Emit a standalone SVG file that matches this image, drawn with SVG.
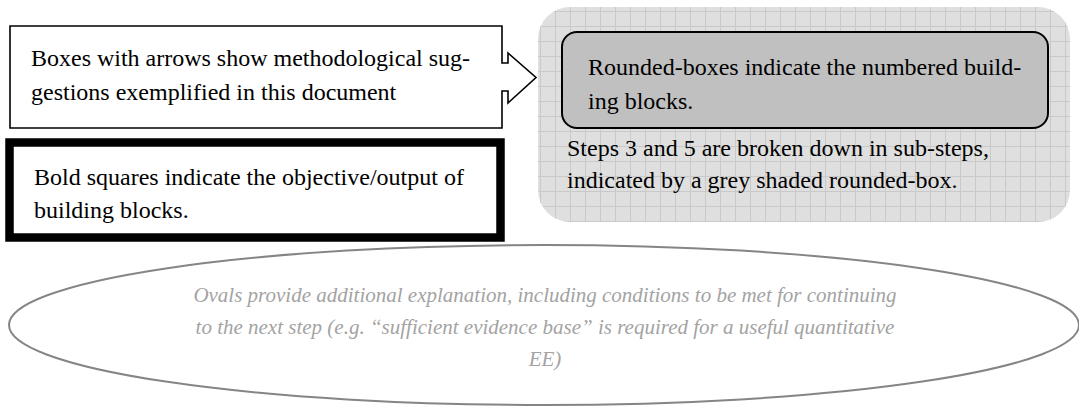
<svg xmlns="http://www.w3.org/2000/svg" width="1079" height="410" viewBox="0 0 1079 410">
  <defs>
    <pattern id="grid" x="0" y="11" width="15" height="15" patternUnits="userSpaceOnUse">
      <path d="M0.5,0 V15 M0,0.5 H15" fill="none" stroke="#c9c9c9" stroke-width="1"/>
    </pattern>
    <style>
      .t { font-family: "Liberation Serif", "Times New Roman", serif; font-size: 24px; fill: #000; }
      .it { font-family: "Liberation Serif", "Times New Roman", serif; font-size: 21px; font-style: italic; fill: #a3a3a3; text-anchor: middle; }
    </style>
  </defs>
  <rect width="1079" height="410" fill="#fff"/>

  <g id="connectors"></g>

  <g id="arrow-box">
    <path d="M10,26 H502 V63 H508 V53 L536,77.5 L508,103 V91 H502 V128 H10 Z" fill="#fff" stroke="#000" stroke-width="1.6"/>
    <text class="t" x="31" y="66" textLength="439" lengthAdjust="spacing">Boxes with arrows show methodological sug-</text>
    <text class="t" x="31" y="100">gestions exemplified in this document</text>
  </g>

  <g id="bold-box">
    <rect x="9.5" y="142.5" width="491" height="95" fill="#fff" stroke="#000" stroke-width="8.5"/>
    <text class="t" x="34" y="185">Bold squares indicate the objective/output of</text>
    <text class="t" x="34" y="218">building blocks.</text>
  </g>

  <g id="panel">
    <rect x="538" y="7" width="532" height="215" rx="32" ry="32" fill="#dfdfdf"/>
    <rect x="538" y="7" width="532" height="215" rx="32" ry="32" fill="url(#grid)"/>
    <g id="rounded-box">
      <rect x="562" y="32" width="486" height="96" rx="15" ry="15" fill="#c0c0c0" stroke="#000" stroke-width="2"/>
      <text class="t" x="588" y="75">Rounded-boxes indicate the numbered build-</text>
      <text class="t" x="588" y="109">ing blocks.</text>
    </g>
    <text class="t" x="567" y="156">Steps 3 and 5 are broken down in sub-steps,</text>
    <text class="t" x="567" y="188">indicated by a grey shaded rounded-box.</text>
  </g>

  <g id="oval">
    <ellipse cx="544" cy="325" rx="535" ry="80" fill="#fff" stroke="#858585" stroke-width="2"/>
    <text class="it" x="545" y="302">Ovals provide additional explanation, including conditions to be met for continuing</text>
    <text class="it" x="545" y="334">to the next step (e.g. “sufficient evidence base” is required for a useful quantitative</text>
    <text class="it" x="545" y="366">EE)</text>
  </g>
</svg>
